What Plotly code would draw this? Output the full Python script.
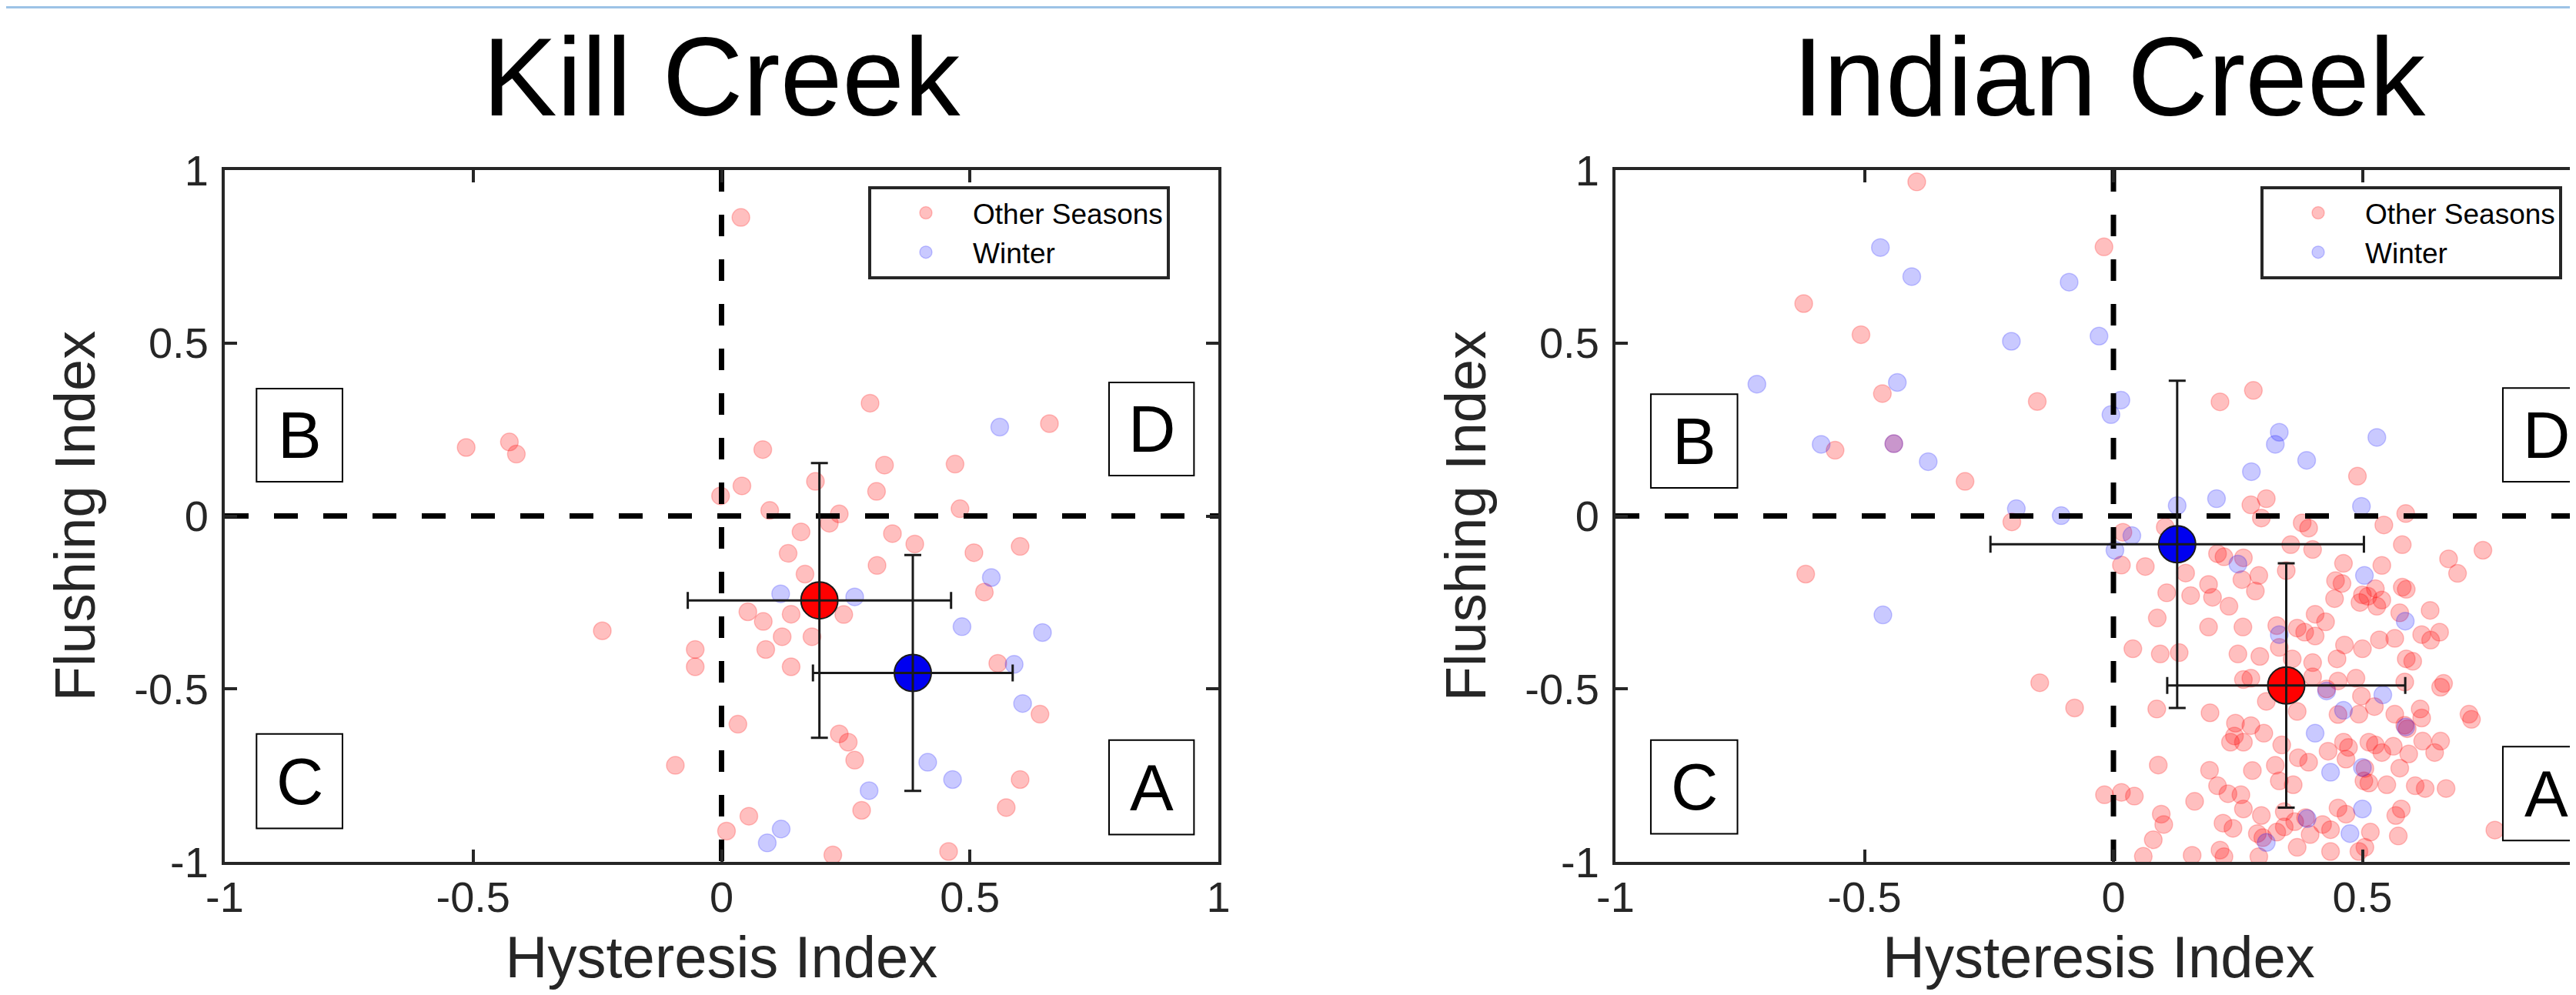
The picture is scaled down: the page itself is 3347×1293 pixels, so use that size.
import plotly.graph_objects as go

W, H = 3347, 1293
FONT = "Liberation Sans, Arial, Helvetica, sans-serif"
AX = "#262626"

# ---------------- Kill Creek data ----------------
kc_other_x = [0.039, 0.299, 0.660, -0.514, -0.427, -0.413, 0.083, 0.328, 0.470, 0.189,
              0.041, 0.312, -0.002, 0.097, 0.237, 0.480, 0.217, 0.160, 0.344, 0.389,
              0.508, 0.601, 0.134, 0.313, 0.168, 0.529, 0.053, 0.084, 0.140, 0.246,
              -0.240, 0.122, 0.182, -0.053, -0.053, 0.089, 0.140, 0.556, 0.641, 0.033,
              0.237, 0.255, 0.268, -0.093, 0.601, 0.282, 0.573, 0.055, 0.010, 0.224, 0.457]
kc_other_y = [0.863, 0.326, 0.267, 0.198, 0.214, 0.179, 0.192, 0.147, 0.150, 0.100,
              0.087, 0.071, 0.058, 0.016, 0.006, 0.021, -0.021, -0.046, -0.051, -0.081,
              -0.106, -0.088, -0.108, -0.143, -0.168, -0.220, -0.277, -0.305, -0.284, -0.285,
              -0.332, -0.349, -0.349, -0.386, -0.436, -0.386, -0.436, -0.426, -0.573, -0.602,
              -0.630, -0.654, -0.706, -0.721, -0.762, -0.851, -0.843, -0.868, -0.911, -0.980, -0.970]
kc_winter_x = [0.560, 0.543, 0.119, 0.268, 0.484, 0.646, 0.589, 0.606, 0.415, 0.465, 0.297, 0.120, 0.092]
kc_winter_y = [0.257, -0.178, -0.225, -0.234, -0.320, -0.337, -0.429, -0.542, -0.712, -0.762, -0.794, -0.905, -0.945]
kc_mean_x = [0.197, 0.385]          # Other Seasons, Winter
kc_mean_y = [-0.244, -0.454]
kc_err_x = [0.265, 0.201]
kc_err_y = [0.397, 0.341]

# ---------------- Indian Creek data ----------------
ic_other_x = [-0.395, -0.019, -0.622, -0.507, -0.464, -0.153, 0.281, 0.214, -0.559, -0.441,
              -0.298, 0.490, -0.204, -0.618, -0.148, -0.078, 0.766, 0.742, 0.019, 0.016, 0.064,
              0.276, 0.307, 0.297, 0.379, 0.392, 0.104, 0.209, 0.222, 0.261, 0.356,
              0.145, 0.258, 0.292, 0.191, 0.285, 0.347, 0.107, 0.155, 0.199, 0.232,
              0.088, 0.191, 0.260, 0.328, 0.369, 0.039, 0.094, 0.132, 0.250, 0.294,
              0.333, 0.359, 0.384,
              0.587, 0.543, 0.580, 0.400, 0.673, 0.691, 0.462, 0.539, 0.446, 0.459,
              0.444, 0.500, 0.526, 0.539, 0.495, 0.511, 0.529, 0.580, 0.588, 0.575,
              0.636, 0.405, 0.426, 0.619, 0.655, 0.637, 0.405, 0.464, 0.500, 0.534,
              0.565, 0.449, 0.588, 0.601, 0.400,
              0.261, 0.276, 0.087, 0.194, 0.307, 0.245, 0.276, 0.302, 0.243, 0.235,
              0.261, 0.369, 0.338, 0.371, 0.325, 0.279, 0.090, 0.193, 0.333, 0.361,
              0.209, 0.230, 0.256, -0.018, 0.016, 0.042, 0.163, 0.261, 0.096, 0.101,
              0.220, 0.240, 0.297, 0.343, 0.364, 0.289, 0.300, 0.328, 0.343, 0.080,
              0.060, 0.158, 0.214, 0.222, 0.292, 0.369, 0.386, 0.392,
              0.585, 0.663, 0.657, 0.428, 0.400, 0.451, 0.487, 0.498, 0.451, 0.493,
              0.524, 0.565, 0.585, 0.590, 0.616, 0.619, 0.719, 0.714, 0.431, 0.462,
              0.472, 0.513, 0.526, 0.539, 0.562, 0.593, 0.621, 0.657, 0.645, 0.467,
              0.505, 0.575, 0.503, 0.513, 0.549, 0.606, 0.626, 0.668, 0.451, 0.467,
              0.578, 0.567, 0.420, 0.436, 0.516, 0.572, 0.395, 0.436, 0.493, 0.505]
ic_other_y = [0.966, 0.778, 0.614, 0.524, 0.354, 0.331, 0.363, 0.330, 0.190, 0.209,
              0.100, 0.115, -0.017, -0.168, -0.482, -0.555, -0.908, -0.099, -0.047, -0.142, -0.146,
              0.032, 0.050, -0.006, -0.020, -0.035, -0.032, -0.109, -0.118, -0.121, -0.083,
              -0.165, -0.184, -0.172, -0.198, -0.217, -0.158, -0.222, -0.230, -0.235, -0.261,
              -0.295, -0.321, -0.321, -0.317, -0.324, -0.384, -0.399, -0.395, -0.399, -0.406,
              -0.380, -0.413, -0.336,
              0.007, -0.026, -0.083, -0.097, -0.124, -0.166, -0.137, -0.143, -0.187, -0.195,
              -0.239, -0.228, -0.210, -0.243, -0.250, -0.232, -0.261, -0.206, -0.212, -0.280,
              -0.273, -0.284, -0.306, -0.343, -0.336, -0.359, -0.347, -0.373, -0.384, -0.358,
              -0.354, -0.413, -0.413, -0.420, -0.424,
              -0.473, -0.469, -0.558, -0.569, -0.536, -0.599, -0.606, -0.628, -0.636, -0.654,
              -0.654, -0.565, -0.662, -0.699, -0.721, -0.736, -0.720, -0.735, -0.766, -0.777,
              -0.780, -0.803, -0.806, -0.806, -0.799, -0.810, -0.825, -0.847, -0.862, -0.892,
              -0.888, -0.903, -0.866, -0.855, -0.884, -0.918, -0.930, -0.914, -0.899, -0.936,
              -0.984, -0.981, -0.966, -0.985, -0.985, -0.958, -0.872, -0.712,
              -0.480, -0.484, -0.495, -0.500, -0.465, -0.477, -0.469, -0.521, -0.574, -0.573,
              -0.551, -0.573, -0.605, -0.615, -0.558, -0.584, -0.588, -0.573, -0.680, -0.654,
              -0.669, -0.654, -0.662, -0.684, -0.666, -0.688, -0.651, -0.651, -0.684, -0.703,
              -0.730, -0.729, -0.766, -0.772, -0.777, -0.780, -0.788, -0.788, -0.844, -0.862,
              -0.847, -0.866, -0.892, -0.907, -0.914, -0.925, -0.921, -0.970, -0.970, -0.958]
ic_winter_x = [-0.468, -0.405, -0.089, -0.205, -0.029, -0.716, -0.434, 0.015, -0.005, -0.587,
               -0.441, -0.372, 0.325, 0.333, 0.388, 0.277, 0.529, 0.207, 0.128, 0.498,
               -0.195, -0.105, -0.463, 0.003, 0.037, 0.250, 0.504, 0.586, 0.333, 0.428,
               0.541, 0.462, 0.587, 0.405, 0.500, 0.436, 0.500, 0.389, 0.475, 0.307]
ic_winter_y = [0.776, 0.692, 0.676, 0.505, 0.520, 0.381, 0.386, 0.335, 0.293, 0.207,
               0.209, 0.157, 0.207, 0.242, 0.161, 0.128, 0.227, 0.050, 0.030, 0.028,
               0.021, 0.001, -0.286, -0.099, -0.057, -0.139, -0.172, -0.304, -0.343, -0.506,
               -0.517, -0.562, -0.610, -0.628, -0.727, -0.741, -0.847, -0.875, -0.918, -0.944]
ic_mean_x = [0.347, 0.128]          # Other Seasons, Winter
ic_mean_y = [-0.490, -0.082]
ic_err_x = [0.239, 0.375]
ic_err_y = [0.353, 0.473]

series_names = ["Other Seasons", "Winter"]
tick_vals = [-1, -0.5, 0, 0.5, 1]
tick_text = ["-1", "-0.5", "0", "0.5", "1"]
titles = ["Kill Creek", "Indian Creek"]
quad_letters = ["B", "D", "C", "A"]

# ---------------- layout constants (pixels / styles) ----------------
PT_FILL = ["rgba(255,0,0,0.25)", "rgba(0,0,255,0.21)"]
PT_LINE = ["rgba(255,0,0,0.22)", "rgba(0,0,255,0.20)"]
MEAN_FILL = ["#ff0000", "#0000f0"]

panels = [
    dict(xa="x", ya="y", leg="legend",
         other=(kc_other_x, kc_other_y), winter=(kc_winter_x, kc_winter_y),
         mx=kc_mean_x, my=kc_mean_y, ex=kc_err_x, ey=kc_err_y,
         boxes=[(-0.936, -0.763, 0.099, 0.368), (0.780, 0.951, 0.117, 0.386),
                (-0.936, -0.763, -0.903, -0.630), (0.780, 0.951, -0.921, -0.648)]),
    dict(xa="x2", ya="y2", leg="legend2",
         other=(ic_other_x, ic_other_y), winter=(ic_winter_x, ic_winter_y),
         mx=ic_mean_x, my=ic_mean_y, ex=ic_err_x, ey=ic_err_y,
         boxes=[(-0.929, -0.755, 0.081, 0.352), (0.782, 0.956, 0.099, 0.370),
                (-0.929, -0.755, -0.919, -0.648), (0.782, 0.956, -0.938, -0.667)]),
]

fig = go.Figure()
shapes = []
annotations = []

for p in panels:
    for k, key in enumerate(["other", "winter"]):
        xs, ys = p[key]
        fig.add_trace(go.Scatter(
            x=xs, y=ys, mode="markers", name=series_names[k],
            xaxis=p["xa"], yaxis=p["ya"], legend=p["leg"], showlegend=True,
            marker=dict(size=23, color=PT_FILL[k], line=dict(width=1.5, color=PT_LINE[k])),
            hoverinfo="x+y"))
    # dashed quadrant lines
    fig.add_trace(go.Scatter(x=[-1, 1], y=[0, 0], mode="lines", xaxis=p["xa"], yaxis=p["ya"],
                             showlegend=False, hoverinfo="skip",
                             line=dict(color="black", width=7, dash="31px,33px")))
    fig.add_trace(go.Scatter(x=[0, 0], y=[1, -1], mode="lines", xaxis=p["xa"], yaxis=p["ya"],
                             showlegend=False, hoverinfo="skip",
                             line=dict(color="black", width=7, dash="28px,30px")))
    # means
    for k in range(2):
        fig.add_trace(go.Scatter(
            x=[p["mx"][k]], y=[p["my"][k]], mode="markers", xaxis=p["xa"], yaxis=p["ya"],
            showlegend=False, hoverinfo="x+y",
            marker=dict(size=48, color=MEAN_FILL[k], line=dict(width=2, color="#1a1a1a"))))
    for k in range(2):
        fig.add_trace(go.Scatter(
            x=[p["mx"][k]], y=[p["my"][k]], mode="markers", xaxis=p["xa"], yaxis=p["ya"],
            showlegend=False, hoverinfo="skip",
            marker=dict(size=2, color="rgba(0,0,0,0)"),
            error_x=dict(type="data", array=[p["ex"][k]], color="#1a1a1a", thickness=3, width=11),
            error_y=dict(type="data", array=[p["ey"][k]], color="#1a1a1a", thickness=3, width=11)))
    for (x0, x1, y0, y1), letter in zip(p["boxes"], quad_letters):
        shapes.append(dict(type="rect", xref=p["xa"], yref=p["ya"], x0=x0, x1=x1, y0=y0, y1=y1,
                           line=dict(color="black", width=2), fillcolor="white", layer="above"))
        annotations.append(dict(xref=p["xa"], yref=p["ya"], x=(x0 + x1) / 2, y=(y0 + y1) / 2,
                                text=letter, showarrow=False, xanchor="center", yanchor="middle",
                                font=dict(size=85, family=FONT, color="black")))

# chart titles
for txt, cx in zip(titles, [930, 2732]):
    annotations.append(dict(xref="paper", yref="paper", x=cx / W, y=1 - 92 / H, text=txt,
                            showarrow=False, xanchor="center", yanchor="middle",
                            font=dict(size=145, family=FONT, color="black")))

# thin light-blue rule across the very top
shapes.append(dict(type="rect", xref="paper", yref="paper", x0=0, x1=1, y0=1 - 3 / H, y1=1,
                   line=dict(width=0), fillcolor="#9dc3e6", layer="above"))

def axis_common(title, tsize, standoff, lstand):
    return dict(range=[-1, 1], showline=True, linewidth=4, linecolor=AX,
                ticks="inside", ticklen=16, tickwidth=4, tickcolor=AX,
                tickmode="array", tickvals=tick_vals, ticktext=tick_text,
                tickfont=dict(size=56, family=FONT, color=AX),
                showgrid=False, zeroline=False, automargin=False, ticklabelstandoff=lstand,
                title=dict(text=title, font=dict(size=tsize, family=FONT, color=AX), standoff=standoff))

ydom = [(H - 1112) / H, (H - 213) / H]
xa1 = axis_common("Hysteresis Index", 76, 22, -6)
xa1.update(domain=[284 / W, 1575 / W], anchor="y", mirror="ticks")
ya1 = axis_common("Flushing Index", 74, 27, 6)
ya1.update(domain=ydom, anchor="x", mirror="ticks")
xa2 = axis_common("Hysteresis Index", 76, 22, -6)
xa2.update(domain=[2091 / W, 1.0], anchor="y2", mirror="ticks", range=[-1, (W - 2091) / 647 - 1])
ya2 = axis_common("Flushing Index", 74, 27, 6)
ya2.update(domain=ydom, anchor="x2", mirror=False)

legend_common = dict(yanchor="top", xanchor="left", y=1 - 234 / H,
                     bordercolor=AX, borderwidth=4, bgcolor="white",
                     font=dict(size=37, family=FONT, color="black"),
                     itemwidth=112, indentation=10, tracegroupgap=0)

fig.update_layout(
    template="none", width=W, height=H,
    margin=dict(l=0, r=0, t=0, b=0, autoexpand=False),
    paper_bgcolor="white", plot_bgcolor="white",
    xaxis=xa1, yaxis=ya1, xaxis2=xa2, yaxis2=ya2,
    legend=dict(x=1120 / W, **legend_common),
    legend2=dict(x=2929 / W, **legend_common),
    shapes=shapes, annotations=annotations,
    font=dict(family=FONT),
)

fig.write_html("out.html")
